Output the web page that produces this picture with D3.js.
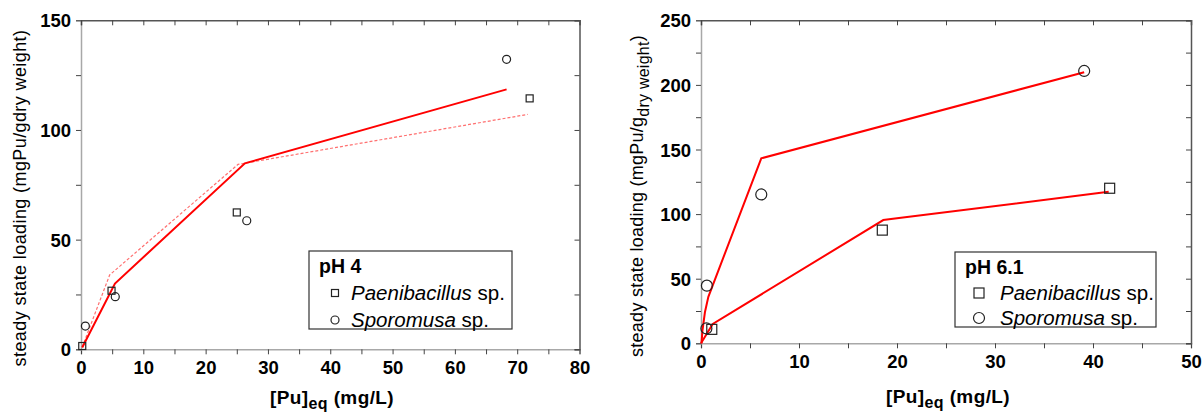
<!DOCTYPE html>
<html>
<head>
<meta charset="utf-8">
<script src="https://cdnjs.cloudflare.com/ajax/libs/d3/7.8.5/d3.min.js"></script>
<style>
  body { margin: 0; background: #fff; }
  svg { font-family: "Liberation Sans", Arial, sans-serif; }
</style>
</head>
<body>
<div id="graf"></div>
<script>
// --- datos ---
// pH 4
const ph4PaeniX = [0.2, 4.9, 25.0, 72.0]
const ph4PaeniY = [1.5, 26.7, 62.4, 114.4]
const ph4SporoX = [0.7, 5.5, 26.6, 68.3]
const ph4SporoY = [10.6, 24.0, 58.6, 132.2]
const ph4FitSolidX = [0.2, 5.45, 26.3, 68.3]
const ph4FitSolidY = [0.8, 30.0, 84.8, 118.5]
const ph4FitDashX = [0.2, 4.6, 25.2, 71.7]
const ph4FitDashY = [1.0, 33.9, 84.3, 107.1]
// pH 6.1
const ph6PaeniX = [1.1, 18.5, 41.7]
const ph6PaeniY = [10.8, 87.6, 120.0]
const ph6SporoX = [0.55, 0.6, 6.15, 39.1]
const ph6SporoY = [11.5, 44.6, 115.2, 210.8]
const ph6FitPaeniX = [0.0, 1.2, 18.6, 20.0, 41.6]
const ph6FitPaeniY = [0.0, 15.0, 95.4, 96.7, 117.3]
const ph6FitSporoX = [0.05, 0.15, 0.4, 0.75, 6.15, 39.1]
const ph6FitSporoY = [0.0, 10.0, 24.0, 36.0, 143.2, 209.8]

// ticks
const ph4XTicks = [0, 10, 20, 30, 40, 50, 60, 70, 80]
const ph4YTicks = [0, 50, 100, 150]
const ph6XTicks = [0, 10, 20, 30, 40, 50]
const ph6YTicks = [0, 50, 100, 150, 200, 250]

const pts = (xs, ys) => xs.map((x, i) => ({ x: x, y: ys[i] }))

svg = d3.select('#graf').append('svg')
  .attr('width', 1204)
  .attr('height', 412)

function panel(cfg) {
  const x = d3.scaleLinear().domain(cfg.xDom).range(cfg.xRange)
  const y = d3.scaleLinear().domain(cfg.yDom).range(cfg.yRange)
  const g = svg.append('g')

  const minorX = d3.range(cfg.xDom[0], cfg.xDom[1] + 0.01, cfg.xMinor)
  const minorY = d3.range(cfg.yDom[0], cfg.yDom[1] + 0.01, cfg.yMinor)

  // ejes izquierdo / inferior (etiquetados)
  const xAxis = g.append('g')
    .attr('transform', `translate(0, ${cfg.yRange[0]})`)
    .call(d3.axisBottom(x).tickValues(minorX).tickSize(5).tickFormat(d => cfg.xTicks.includes(d) ? d : ''))
  const yAxis = g.append('g')
    .attr('transform', `translate(${cfg.xRange[0]}, 0)`)
    .call(d3.axisLeft(y).tickValues(minorY).tickSize(5).tickFormat(d => cfg.yTicks.includes(d) ? d : ''))
  ;[xAxis, yAxis].forEach(a => {
    a.select('.domain').attr('stroke', '#a8a8a8').attr('stroke-width', 1.5)
    a.selectAll('.tick line').attr('stroke', '#444')
    a.selectAll('text')
      .attr('fill', '#000')
      .style('font-size', '18.5px')
      .style('font-weight', 'bold')
      .style('font-family', '"Liberation Sans", Arial, sans-serif')
  })
  xAxis.selectAll('text').attr('dy', null).attr('y', 25)
  yAxis.selectAll('text').attr('x', -10).attr('dy', '0.36em')

  // ejes superior / derecho (sin etiquetas, ticks hacia dentro)
  const top = g.append('g')
    .attr('transform', `translate(0, ${cfg.yRange[1]})`)
    .call(d3.axisTop(x).tickValues(minorX).tickSize(-5).tickFormat(''))
  const right = g.append('g')
    .attr('transform', `translate(${cfg.xRange[1]}, 0)`)
    .call(d3.axisRight(y).tickValues(minorY).tickSize(-5).tickFormat(''))
  ;[top, right].forEach(a => {
    a.select('.domain').attr('stroke', '#555').attr('stroke-width', 1.5)
    a.selectAll('.tick line').attr('stroke', '#444')
  })

  // lineas del modelo
  const lineaGen = d3.line().x(d => x(d.x)).y(d => y(d.y))
  cfg.lines.forEach(l => {
    g.append('path')
      .attr('d', lineaGen(l.data))
      .attr('fill', 'none')
      .attr('stroke', l.color)
      .attr('stroke-width', l.width)
      .attr('stroke-dasharray', l.dash || null)
  })

  // puntos
  const s = cfg.markerSize
  g.selectAll('.sq').data(cfg.squares).join('rect')
    .attr('x', d => x(d.x) - s / 2)
    .attr('y', d => y(d.y) - s / 2)
    .attr('width', s).attr('height', s)
    .attr('fill', 'none').attr('stroke', '#222').attr('stroke-width', 1.2)
  g.selectAll('.ci').data(cfg.circles).join('circle')
    .attr('cx', d => x(d.x))
    .attr('cy', d => y(d.y))
    .attr('r', s / 2 + 0.5)
    .attr('fill', 'none').attr('stroke', '#222').attr('stroke-width', 1.2)

  // titulos de ejes
  const xt = g.append('text')
    .attr('x', cfg.xTitle[0]).attr('y', cfg.xTitle[1])
    .attr('text-anchor', 'middle')
    .style('font-size', '19px').style('font-weight', 'bold')
    .style('letter-spacing', '0.4px')
  xt.append('tspan').text('[Pu]')
  xt.append('tspan').text('eq').attr('dy', 5).style('font-size', '16px')
  xt.append('tspan').text(' (mg/L)').attr('dy', -5)

  const yt = g.append('text')
    .attr('transform', `translate(${cfg.yTitle[0]}, ${cfg.yTitle[1]}) rotate(-90)`)
    .attr('text-anchor', 'middle')
    .style('font-size', '18px')
    .style('letter-spacing', cfg.subDry ? '0.25px' : '0.4px')
  if (cfg.subDry) {
    yt.append('tspan').text('steady state loading (mgPu/g')
    yt.append('tspan').text('dry weight').attr('dy', 6).style('font-size', '16px')
    yt.append('tspan').text(')').attr('dy', -6)
  } else {
    yt.text('steady state loading (mgPu/gdry weight)')
  }

  // leyenda
  const L = cfg.legend
  g.append('rect')
    .attr('x', L.x).attr('y', L.y).attr('width', L.w).attr('height', L.h)
    .attr('fill', '#fff').attr('stroke', '#333').attr('stroke-width', 1.2)
  g.append('text').attr('x', L.x + 10).attr('y', L.y + 22)
    .style('font-size', '19.5px').style('font-weight', 'bold').text(L.title)
  const nombres = ['Paenibacillus', 'Sporomusa']
  nombres.forEach((n, i) => {
    const cy = L.y + L.row0 + i * L.dRow
    if (i === 0) {
      g.append('rect').attr('x', L.mx - s / 2).attr('y', cy - s / 2).attr('width', s).attr('height', s)
        .attr('fill', 'none').attr('stroke', '#222').attr('stroke-width', 1.2)
    } else {
      g.append('circle').attr('cx', L.mx).attr('cy', cy).attr('r', s / 2 + 0.5)
        .attr('fill', 'none').attr('stroke', '#222').attr('stroke-width', 1.2)
    }
    const t = g.append('text').attr('x', L.tx).attr('y', cy + 7).style('font-size', '20.5px')
    t.append('tspan').text(n).style('font-style', 'italic')
    t.append('tspan').text(' sp.')
  })
}

panel({
  xDom: [0, 80], yDom: [0, 150],
  xRange: [81, 579.5], yRange: [349.3, 20.3],
  xTicks: ph4XTicks, yTicks: ph4YTicks, xMinor: 5, yMinor: 25,
  squares: pts(ph4PaeniX, ph4PaeniY),
  circles: pts(ph4SporoX, ph4SporoY),
  markerSize: 7,
  lines: [
    { data: pts(ph4FitDashX, ph4FitDashY), color: '#ff7070', width: 1.2, dash: '3,2' },
    { data: pts(ph4FitSolidX, ph4FitSolidY), color: '#ff0000', width: 2 }
  ],
  xTitle: [332, 404], yTitle: [26, 198], subDry: false,
  legend: { x: 309, y: 251, w: 203, h: 78, title: 'pH 4', mx: 335, tx: 351, row0: 42, dRow: 27 }
})

panel({
  xDom: [0, 50], yDom: [0, 250],
  xRange: [701, 1191], yRange: [343.3, 20.3],
  xTicks: ph6XTicks, yTicks: ph6YTicks, xMinor: 5, yMinor: 25,
  squares: pts(ph6PaeniX, ph6PaeniY),
  circles: pts(ph6SporoX, ph6SporoY),
  markerSize: 10,
  lines: [
    { data: pts(ph6FitPaeniX, ph6FitPaeniY), color: '#ff0000', width: 2 },
    { data: pts(ph6FitSporoX, ph6FitSporoY), color: '#ff0000', width: 2 }
  ],
  xTitle: [948, 403], yTitle: [643, 196], subDry: true,
  legend: { x: 955, y: 252, w: 201, h: 75, title: 'pH 6.1', mx: 979, tx: 1000, row0: 41, dRow: 25 }
})
</script>
</body>
</html>
